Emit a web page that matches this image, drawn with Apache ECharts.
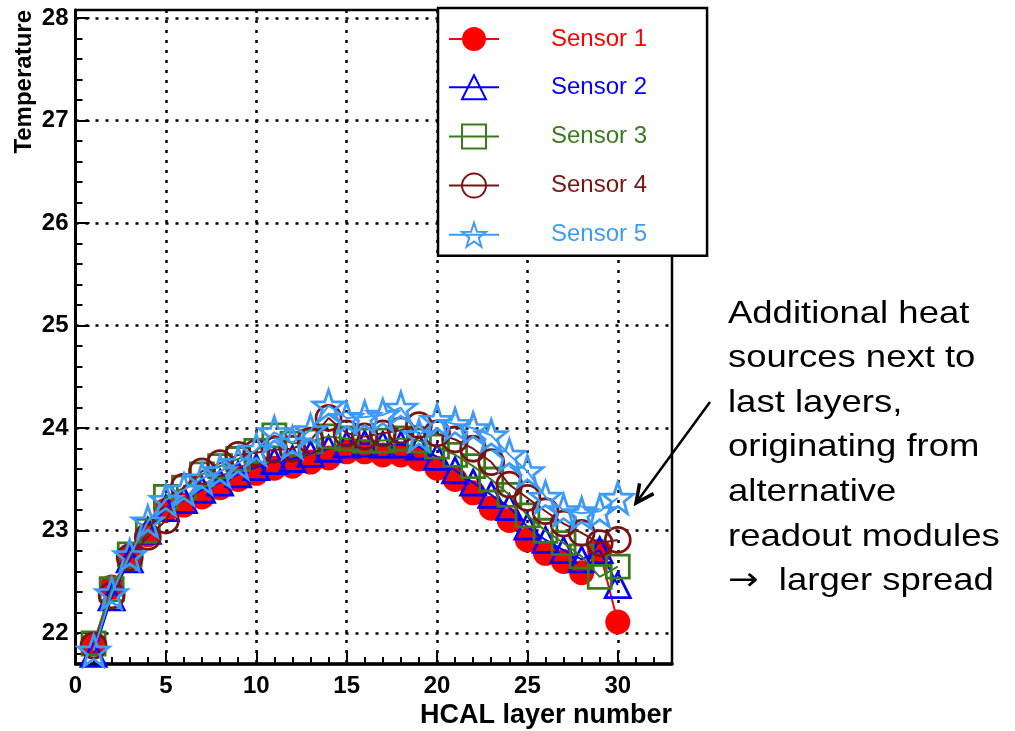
<!DOCTYPE html>
<html>
<head>
<meta charset="utf-8">
<script src="https://cdn.jsdelivr.net/npm/echarts@6/dist/echarts.min.js"></script>
<style>
html,body{margin:0;padding:0;background:#fff;}
#c{width:1015px;height:731px;}
</style>
</head>
<body>
<div id="c"></div>
<script>
// ---- data ----
const layers = [1,2,3,4,5,6,7,8,9,10,11,12,13,14,15,16,17,18,19,20,21,22,23,24,25,26,27,28,29,30];
const sensor1 = [21.90,22.45,22.75,22.96,23.20,23.25,23.33,23.42,23.50,23.56,23.61,23.63,23.67,23.71,23.77,23.77,23.74,23.74,23.70,23.61,23.50,23.37,23.22,23.10,22.91,22.78,22.70,22.59,22.80,22.11];
const sensor2 = [21.80,22.35,22.72,23.00,23.22,23.30,23.40,23.47,23.55,23.62,23.68,23.70,23.75,23.80,23.84,23.85,23.84,23.84,23.82,23.72,23.59,23.47,23.35,23.23,23.04,22.91,22.81,22.72,22.81,22.47];
const sensor3 = [21.90,22.43,22.77,23.00,23.33,23.42,23.55,23.63,23.70,23.78,23.93,23.85,23.87,23.92,23.90,23.88,23.88,23.90,23.88,23.82,23.74,23.63,23.50,23.35,23.15,23.00,22.88,22.75,22.55,22.65];
const sensor4 = [21.88,22.37,22.74,22.94,23.10,23.43,23.58,23.66,23.74,23.76,23.79,23.80,23.88,24.10,23.95,23.92,23.95,23.98,24.03,23.95,23.89,23.80,23.67,23.45,23.32,23.19,23.07,22.98,22.88,22.91];
const sensor5 = [21.83,22.39,22.76,23.09,23.30,23.40,23.51,23.58,23.66,23.79,23.96,23.86,23.98,24.22,24.10,24.11,24.13,24.20,23.93,24.08,24.04,24.00,23.93,23.74,23.58,23.33,23.20,23.17,23.19,23.32];
const seriesNames = ['Sensor 1','Sensor 2','Sensor 3','Sensor 4','Sensor 5'];
const xTickLabels = [0,5,10,15,20,25,30];
const xMinorTicks = [1,2,3,4,6,7,8,9,11,12,13,14,16,17,18,19,21,22,23,24,26,27,28,29,31,32];
const yTickLabels = [22,23,24,25,26,27,28];
const yMinorTicks = [21.8,22.2,22.4,22.6,22.8,23.2,23.4,23.6,23.8,24.2,24.4,24.6,24.8,25.2,25.4,25.6,25.8,26.2,26.4,26.6,26.8,27.2,27.4,27.6,27.8,28.0];
const xTitle = 'HCAL layer number';
const yTitle = 'Temperature';
const noteLines = ['Additional heat','sources next to','last layers,','originating from','alternative','readout modules'];
const noteLast = 'larger spread';

// ---- styles ----
const colors = ['#ff0000','#0000ff','#3a7a1c','#7a1414','#3d9bf7'];
const starPath = 'path://M0,-10 L2.35,-3.24 L9.51,-3.09 L3.8,1.24 L5.88,8.09 L0,4 L-5.88,8.09 L-3.8,1.24 L-9.51,-3.09 L-2.35,-3.24 Z';
const symbols = ['circle','triangle','rect','circle',starPath];
const filled = [true,false,false,false,false];
const sizes = [25,25,23,25,31];
const allData = [sensor1,sensor2,sensor3,sensor4,sensor5];
const FONT = '"Liberation Sans", Arial, Helvetica, sans-serif';
const YMIN = 21.7, YMAX = 28.08, XMIN = 0, XMAX = 33;

const series = allData.map((vals, i) => ({
  name: seriesNames[i],
  type: 'line',
  xAxisIndex: 0, yAxisIndex: 0,
  data: layers.map((x, k) => [x, vals[k]]),
  symbol: symbols[i],
  symbolSize: sizes[i],
  color: colors[i],
  lineStyle: {color: colors[i], width: 2},
  itemStyle: filled[i] ? {color: colors[i]} : {color: 'rgba(0,0,0,0)', borderColor: colors[i], borderWidth: 2.8},
  z: 3 + i,
  animation: false
}));

const chart = echarts.init(document.getElementById('c'), null, {renderer: 'canvas'});
const gridLeft = 75.5, gridTop = 10, gridRight = 343, gridBottom = 67;

// arrow geometry (annotation)
const ax0 = 710, ay0 = 402, ax1 = 636, ay1 = 503;
const dx = ax1 - ax0, dy = ay1 - ay0, L = Math.hypot(dx, dy);
const ux = dx / L, uy = dy / L;
const headLen = 20, ang = 0.45;
function rot(x, y, a){ return [x*Math.cos(a) - y*Math.sin(a), x*Math.sin(a) + y*Math.cos(a)]; }
const h1 = rot(-ux, -uy, ang), h2 = rot(-ux, -uy, -ang);

chart.setOption({
  backgroundColor: '#fff',
  animation: false,
  grid: {left: gridLeft, top: gridTop, right: gridRight, bottom: gridBottom, show: true, borderColor: '#000', borderWidth: 2.5, backgroundColor: 'transparent'},
  xAxis: [{
    type: 'value', min: XMIN, max: XMAX, interval: 5, position: 'bottom',
    axisLine: {show: true, onZero: false, lineStyle: {color: '#000', width: 3.5}},
    axisTick: {show: true, inside: true, length: 13, customValues: xTickLabels, lineStyle: {color: '#000', width: 2}},
    axisLabel: {customValues: xTickLabels, color: '#000', fontFamily: FONT, fontWeight: 'bold', fontSize: 24, margin: 10},
    splitLine: {show: true, lineStyle: {color: '#000', width: 2.5, type: [3, 7]}}
  }, {
    type: 'value', min: XMIN, max: XMAX, position: 'bottom',
    axisLine: {show: false, onZero: false},
    axisTick: {show: true, inside: true, length: 7, customValues: xMinorTicks, lineStyle: {color: '#000', width: 2}},
    axisLabel: {show: false},
    splitLine: {show: false}
  }],
  yAxis: [{
    type: 'value', min: YMIN, max: YMAX, position: 'left',
    axisLine: {show: true, onZero: false, lineStyle: {color: '#000', width: 3}},
    axisTick: {show: true, inside: true, length: 14, customValues: yTickLabels, lineStyle: {color: '#000', width: 2}},
    axisLabel: {customValues: yTickLabels, color: '#000', fontFamily: FONT, fontWeight: 'bold', fontSize: 24, margin: 7},
    splitLine: {show: true, lineStyle: {color: '#000', width: 2.5, type: [3, 7]}}
  }, {
    type: 'value', min: YMIN, max: YMAX, position: 'left',
    axisLine: {show: false, onZero: false},
    axisTick: {show: true, inside: true, length: 7, customValues: yMinorTicks, lineStyle: {color: '#000', width: 2}},
    axisLabel: {show: false},
    splitLine: {show: false}
  }],
  legend: {
    orient: 'vertical', left: 438, top: 8,
    backgroundColor: '#fff', borderColor: '#000', borderWidth: 2.5,
    padding: [19, 60, 8, 10],
    itemWidth: 50, itemHeight: 30, itemGap: 23.2,
    data: seriesNames.map((n, i) => ({name: n, textStyle: {color: colors[i]}})),
    textStyle: {fontFamily: FONT, fontSize: 24, padding: [0, 0, 0, 47]},
    z: 20
  },
  graphic: [
    {type: 'text', x: 24, y: 10, rotation: Math.PI / 2, silent: true,
      style: {text: yTitle, fill: '#000', font: 'bold 24px ' + FONT, textAlign: 'right', textVerticalAlign: 'middle'}},
    {type: 'text', x: 672, y: 716, silent: true,
      style: {text: xTitle, fill: '#000', font: 'bold 27px ' + FONT, textAlign: 'right', textVerticalAlign: 'middle'}},
    {type: 'text', x: 728, y: 291.5, scaleX: 1.14, silent: true,
      style: {
        text: noteLines.join('\n') + '\n{arr|\u2192}  ' + noteLast,
        fill: '#000', font: '32px ' + FONT, lineHeight: 44.6, textAlign: 'left', textVerticalAlign: 'top',
        rich: {arr: {fontFamily: '"DejaVu Sans", sans-serif', fontSize: 32, fill: '#000', lineHeight: 44.6}}
      }},
    {type: 'line', silent: true, shape: {x1: ax0, y1: ay0, x2: ax1, y2: ay1}, style: {stroke: '#000', lineWidth: 2.5}},
    {type: 'polyline', silent: true, shape: {points: [[ax1 + h1[0]*headLen, ay1 + h1[1]*headLen], [ax1, ay1], [ax1 + h2[0]*headLen, ay1 + h2[1]*headLen]]}, style: {stroke: '#000', lineWidth: 3.5, fill: null}}
  ],
  series: series
});
</script>
</body>
</html>
